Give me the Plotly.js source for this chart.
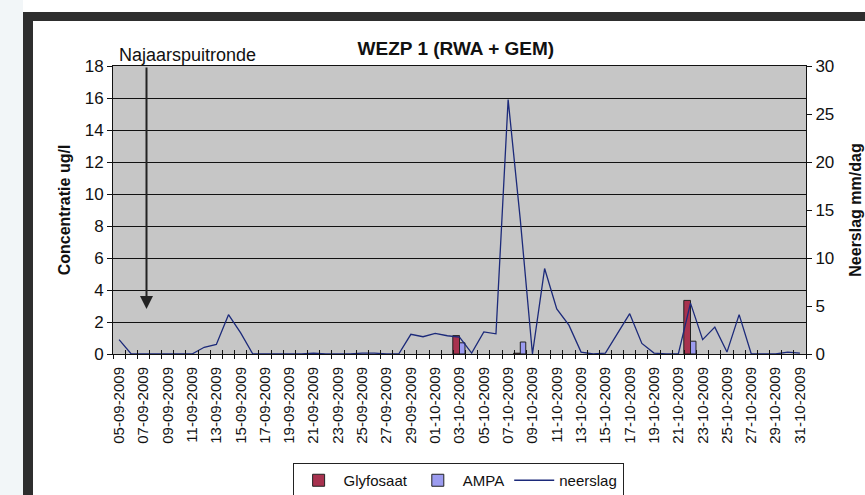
<!DOCTYPE html>
<html>
<head>
<meta charset="utf-8">
<script src="https://cdn.plot.ly/plotly-3.0.1.min.js"></script>
<style>html,body{margin:0;padding:0;background:#fff;}#chart{width:865px;height:495px;}</style>
</head>
<body>
<div id="chart"></div>
<script>
const dates = [
  '05-09-2009','06-09-2009','07-09-2009','08-09-2009','09-09-2009','10-09-2009','11-09-2009','12-09-2009',
  '13-09-2009','14-09-2009','15-09-2009','16-09-2009','17-09-2009','18-09-2009','19-09-2009','20-09-2009',
  '21-09-2009','22-09-2009','23-09-2009','24-09-2009','25-09-2009','26-09-2009','27-09-2009','28-09-2009',
  '29-09-2009','30-09-2009','01-10-2009','02-10-2009','03-10-2009','04-10-2009','05-10-2009','06-10-2009',
  '07-10-2009','08-10-2009','09-10-2009','10-10-2009','11-10-2009','12-10-2009','13-10-2009','14-10-2009',
  '15-10-2009','16-10-2009','17-10-2009','18-10-2009','19-10-2009','20-10-2009','21-10-2009','22-10-2009',
  '23-10-2009','24-10-2009','25-10-2009','26-10-2009','27-10-2009','28-10-2009','29-10-2009','30-10-2009',
  '31-10-2009'
];
// neerslag mm/dag (right axis)
const neerslag = [
  1.5, 0, 0, 0, 0, 0, 0, 0.7,
  1.0, 4.1, 2.2, 0, 0, 0, 0, 0,
  0.1, 0, 0, 0, 0.1, 0.1, 0, 0,
  2.05, 1.8, 2.15, 1.9, 1.75, 0.1, 2.3, 2.1,
  26.5, 14, 0, 8.9, 4.7, 3.0, 0.2, 0,
  0.1, 2.2, 4.2, 1.1, 0.1, 0, 0, 5.3,
  1.5, 2.8, 0.2, 4.1, 0, 0, 0, 0.2,
  0.1
];
// sampled concentrations (left axis, ug/l)
const sampleDates = ['03-10-2009', '08-10-2009', '22-10-2009'];
const glyfosaat = [1.15, 0.05, 3.35];
const ampa = [0.7, 0.75, 0.8];

const chartTitle = 'WEZP 1 (RWA + GEM)';
const leftTitle = 'Concentratie ug/l';
const rightTitle = 'Neerslag mm/dag';
const annotText = 'Najaarspuitronde';

const FONT = 'Liberation Sans, Arial, sans-serif';
const nCat = dates.length;

// pixel -> paper helpers (plot area 113..806 x 66..354)
const PL = 113, PR = 806, PT = 66, PB = 354;
const px = v => (v - PL) / (PR - PL);
const py = v => (PB - v) / (PB - PT);

const traces = [
  {type: 'bar', name: 'Glyfosaat', x: sampleDates, y: glyfosaat, width: 0.55, offset: -0.55,
   marker: {color: '#a8324f', line: {color: '#222', width: 1}}, xaxis: 'x', yaxis: 'y'},
  {type: 'bar', name: 'AMPA', x: sampleDates, y: ampa, width: 0.45, offset: 0,
   marker: {color: '#9c9cf0', line: {color: '#222', width: 1}}, xaxis: 'x', yaxis: 'y'},
  {type: 'scatter', mode: 'lines', name: 'neerslag', x: dates, y: neerslag,
   line: {color: '#1c2a7a', width: 1.3}, xaxis: 'x', yaxis: 'y2'},
  // empty helper traces so the tick-mark-only axes get drawn
  {type: 'scatter', mode: 'lines', x: [], y: [], xaxis: 'x2', yaxis: 'y', showlegend: false, hoverinfo: 'skip'},
  {type: 'scatter', mode: 'lines', x: [], y: [], xaxis: 'x3', yaxis: 'y', showlegend: false, hoverinfo: 'skip'}
];

const layout = {
  width: 865, height: 495,
  margin: {l: PL, r: 865 - PR, t: PT, b: 495 - PB, autoexpand: false},
  paper_bgcolor: '#ffffff',
  plot_bgcolor: '#c6c6c6',
  font: {family: FONT, color: '#111'},
  barmode: 'overlay',
  showlegend: true,
  title: {text: '<b>' + chartTitle + '</b>', x: 0.527, xanchor: 'center', y: 1 - 48/495, yanchor: 'middle',
          font: {size: 19, family: FONT, color: '#111'}},
  xaxis: {
    type: 'category', categoryorder: 'array', categoryarray: dates,
    range: [-0.5, nCat - 0.5], tickmode: 'linear', tick0: 0, dtick: 2,
    tickangle: -90, tickfont: {size: 15, family: FONT, color: '#111'},
    ticks: '', ticklabelstandoff: 6,
    showline: true, linecolor: '#111', linewidth: 1, mirror: true,
    showgrid: false, zeroline: false, fixedrange: true
  },
  xaxis2: {
    overlaying: 'x', anchor: 'y', side: 'bottom', type: 'linear', range: [-0.5, nCat - 0.5],
    tickmode: 'linear', tick0: -0.5, dtick: 1, ticks: 'outside', ticklen: 4, tickcolor: '#111',
    showticklabels: false, showline: false, showgrid: false, zeroline: false
  },
  xaxis3: {
    overlaying: 'x', anchor: 'y', side: 'bottom', type: 'linear', range: [-0.5, nCat - 0.5],
    tickmode: 'linear', tick0: -0.5, dtick: 1, ticks: 'inside', ticklen: 4, tickcolor: '#111',
    showticklabels: false, showline: false, showgrid: false, zeroline: false
  },
  yaxis: {
    range: [0, 18], tickmode: 'linear', tick0: 0, dtick: 2,
    ticks: 'outside', ticklen: 5, tickcolor: '#111',
    tickfont: {size: 17, family: FONT, color: '#111'},
    showline: true, linecolor: '#111', linewidth: 1,
    showgrid: true, gridcolor: '#111', gridwidth: 1, zeroline: false,
    title: {text: '<b>' + leftTitle + '</b>', font: {size: 16, family: FONT, color: '#111'}, standoff: 10},
    automargin: false
  },
  yaxis2: {
    overlaying: 'y', side: 'right', range: [0, 30], tickmode: 'linear', tick0: 0, dtick: 5,
    ticks: 'outside', ticklen: 5, tickcolor: '#111',
    tickfont: {size: 17, family: FONT, color: '#111'},
    showline: true, linecolor: '#111', linewidth: 1,
    showgrid: false, zeroline: false,
    title: {text: '<b>' + rightTitle + '</b>', font: {size: 16, family: FONT, color: '#111'}, standoff: 16},
    automargin: false
  },
  legend: {
    orientation: 'h', x: 0.498, xanchor: 'center', y: py(463), yanchor: 'top',
    bgcolor: '#ffffff', bordercolor: '#222', borderwidth: 1, itemwidth: 40,
    font: {size: 15, family: FONT, color: '#111'}, traceorder: 'normal'
  },
  annotations: [
    {xref: 'paper', yref: 'paper', x: px(117), y: py(55), xanchor: 'left', yanchor: 'middle',
     text: annotText, showarrow: false, font: {size: 18, family: FONT, color: '#111'}},
    {xref: 'paper', yref: 'paper', x: px(146.5), y: py(309), text: '', showarrow: true,
     ax: 0, ay: -243, arrowhead: 2, arrowsize: 1.3, arrowwidth: 2, arrowcolor: '#222'}
  ],
  shapes: [
    {type: 'rect', xref: 'paper', yref: 'paper', x0: px(0), x1: px(23), y0: py(495), y1: py(0),
     fillcolor: '#f2f6f8', line: {width: 0}, layer: 'below'},
    {type: 'rect', xref: 'paper', yref: 'paper', x0: px(23), x1: px(33), y0: py(495), y1: py(12),
     fillcolor: '#2e2e2e', line: {width: 0}, layer: 'below'},
    {type: 'rect', xref: 'paper', yref: 'paper', x0: px(23), x1: px(865), y0: py(21), y1: py(12),
     fillcolor: '#2e2e2e', line: {width: 0}, layer: 'below'}
  ]
};

Plotly.newPlot('chart', traces, layout, {displayModeBar: false, staticPlot: true});
</script>
</body>
</html>
